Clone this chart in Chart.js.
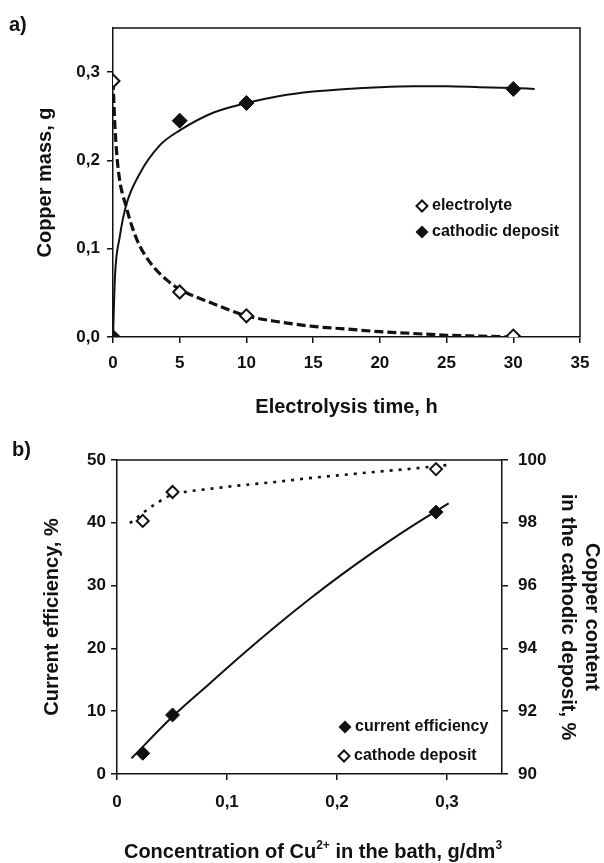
<!DOCTYPE html>
<html>
<head>
<meta charset="utf-8">
<script src="https://cdn.jsdelivr.net/npm/chart.js@4.4.0/dist/chart.umd.min.js"></script>
<style>
  body { margin: 0; background: #fff; width: 604px; height: 863px; position: relative; overflow: hidden; }
  #wrapA { position: absolute; left: 0; top: 0; width: 604px; height: 425px; }
  #wrapB { position: absolute; left: 0; top: 425px; width: 604px; height: 438px; }
</style>
</head>
<body>
<div id="wrapA"><canvas id="chartA" width="604" height="425"></canvas></div>
<div id="wrapB"><canvas id="chartB" width="604" height="438"></canvas></div>
<script>
// ---- a) copper mass vs electrolysis time ----
var time_h = [0, 5, 10, 30];
var electrolyte_g = [0.29, 0.051, 0.024, 0.001];
var deposit_g = [0, 0.245, 0.265, 0.281];
// trend lines
var deposit_fit_t = [0, 0.15, 0.5, 1, 2, 3.5, 5, 7.5, 10, 12.5, 15, 17.5, 20, 22.5, 25, 27.5, 30, 31.6];
var deposit_fit_g = [0, 0.069, 0.113, 0.15, 0.185, 0.217, 0.234, 0.254, 0.265, 0.273, 0.278, 0.281, 0.283, 0.284, 0.284, 0.283, 0.282, 0.281];
var electrolyte_fit_t = [0, 0.15, 0.4, 1, 1.8, 2.8, 4, 5, 7.3, 10, 12.5, 15, 17.5, 20, 22.5, 25, 27.5, 30];
var electrolyte_fit_g = [0.29, 0.237, 0.189, 0.147, 0.11, 0.084, 0.065, 0.054, 0.039, 0.024, 0.017, 0.012, 0.009, 0.006, 0.004, 0.002, 0.001, 0.0];

// ---- b) current efficiency / Cu content vs Cu2+ concentration ----
var conc = [0.0234, 0.0505, 0.29];
var efficiency = [3.3, 9.4, 41.7];
var cu_content = [98.06, 98.98, 99.71];
var eff_fit_c = [0.0132, 0.0508, 0.0838, 0.1138, 0.1438, 0.1739, 0.2039, 0.2339, 0.264, 0.3015];
var eff_fit = [2.5, 9.2, 14.35, 19.0, 23.45, 27.7, 31.7, 35.45, 39.0, 43.1];
var cu_fit_c = [0.0117, 0.023, 0.035, 0.0505, 0.065, 0.084, 0.114, 0.144, 0.174, 0.204, 0.234, 0.264, 0.30];
var cu_fit = [97.99, 98.3, 98.6, 98.9, 99.0, 99.08, 99.2, 99.3, 99.42, 99.52, 99.62, 99.71, 99.84];

var ink = '#111';
var FONT = '"Liberation Sans", Arial, sans-serif';
Chart.defaults.font.family = FONT;
Chart.defaults.color = ink;

function pts(xs, ys) {
    return xs.map(function (x, i) { return {x: x, y: ys[i]}; });
}
function comma(v, d) { return v.toFixed(d).replace('.', ','); }

function diamond(ctx, x, y, r, filled) {
    ctx.beginPath();
    ctx.moveTo(x, y - r); ctx.lineTo(x + r, y); ctx.lineTo(x, y + r); ctx.lineTo(x - r, y);
    ctx.closePath();
    if (filled) {
        ctx.fillStyle = ink; ctx.fill();
    } else {
        ctx.fillStyle = '#fff'; ctx.fill();
        ctx.lineWidth = 2; ctx.strokeStyle = ink; ctx.stroke();
    }
}

function tickAxis(extra) {
    var o = {
        type: 'linear',
        border: {display: true, color: ink, width: 1.5},
        grid: {drawOnChartArea: false, drawTicks: true, tickLength: 6, color: ink, lineWidth: 1.5},
        ticks: {color: ink, font: {size: 17, weight: 'bold'}, includeBounds: false}
    };
    for (var k in extra) o[k] = extra[k];
    return o;
}

// frame lines + panel letter + legend, drawn on the canvas
function decor(opts) {
    return {
        id: 'decor',
        beforeDatasetsDraw: function (chart) {
            var ctx = chart.ctx, a = chart.chartArea;
            ctx.save();
            ctx.strokeStyle = ink; ctx.lineWidth = 1.5;
            ctx.beginPath();
            ctx.moveTo(a.left, a.top); ctx.lineTo(a.right, a.top);
            if (opts.rightEdge) ctx.lineTo(a.right, a.bottom);
            ctx.stroke();
            ctx.restore();
        },
        afterDraw: function (chart) {
            var ctx = chart.ctx;
            ctx.save();
            ctx.fillStyle = ink;
            ctx.font = 'bold 20px ' + FONT;
            ctx.textBaseline = 'middle';
            ctx.textAlign = 'left';
            ctx.fillText(opts.letter, opts.letterPos[0], opts.letterPos[1]);
            opts.legend.forEach(function (it) {
                diamond(ctx, it.x, it.y, it.r, it.filled);
                ctx.fillStyle = ink;
                ctx.font = 'bold 16px ' + FONT;
                ctx.textBaseline = 'middle';
                ctx.fillText(it.text, it.x + 10, it.y);
            });
            if (opts.after) opts.after(chart, ctx);
            ctx.restore();
        }
    };
}

var chartA = new Chart(document.getElementById('chartA'), {
    type: 'line',
    data: {
        datasets: [
            {label: 'electrolyte', data: pts(time_h, electrolyte_g), showLine: false,
             pointStyle: 'rectRot', pointRadius: 6.5, pointBackgroundColor: '#fff',
             pointBorderColor: ink, pointBorderWidth: 2, order: 1},
            {label: 'cathodic deposit', data: pts(time_h, deposit_g), showLine: false,
             pointStyle: 'rectRot', pointRadius: 7.5, pointBackgroundColor: ink,
             pointBorderColor: ink, pointBorderWidth: 1, order: 1},
            {label: 'electrolyte trend', data: pts(electrolyte_fit_t, electrolyte_fit_g),
             borderColor: ink, borderWidth: 3.2, borderDash: [9, 4], pointRadius: 0,
             cubicInterpolationMode: 'monotone', fill: false, order: 2},
            {label: 'deposit trend', data: pts(deposit_fit_t, deposit_fit_g),
             borderColor: ink, borderWidth: 2, pointRadius: 0,
             cubicInterpolationMode: 'monotone', fill: false, order: 2}
        ]
    },
    options: {
        responsive: false,
        animation: false,
        layout: {padding: {top: 28, right: 24, left: 0, bottom: 0}},
        plugins: {legend: {display: false}, tooltip: {enabled: false}},
        scales: {
            x: tickAxis({
                min: 0, max: 35,
                ticks: {color: ink, font: {size: 17, weight: 'bold'}, stepSize: 5, padding: 10},
                title: {display: true, text: 'Electrolysis time, h', color: ink,
                        font: {size: 20, weight: 'bold'}, padding: {top: 0, bottom: 6}},
                afterFit: function (s) { s.height = 88; }
            }),
            y: tickAxis({
                min: 0, max: 0.35,
                ticks: {color: ink, font: {size: 17, weight: 'bold'}, stepSize: 0.1, padding: 7,
                        includeBounds: false, callback: function (v) { return comma(v, 1); }},
                title: {display: true, text: 'Copper mass, g', color: ink,
                        font: {size: 20, weight: 'bold'}, padding: {top: 33, bottom: 0}},
                afterFit: function (s) { s.width = 113; }
            })
        }
    },
    plugins: [decor({
        letter: 'a)', letterPos: [9, 25], rightEdge: true,
        legend: [
            {text: 'electrolyte', x: 422, y: 206, r: 5.5, filled: false},
            {text: 'cathodic deposit', x: 422, y: 232, r: 6.5, filled: true}
        ]
    })]
});

function drawTitleB(chart, ctx) {
    var parts = [['Concentration of Cu', 0], ['2+', 1], [' in the bath, g/dm', 0], ['3', 1]];
    var big = 'bold 20px ' + FONT, small = 'bold 12px ' + FONT;
    var w = 0;
    parts.forEach(function (p) { ctx.font = p[1] ? small : big; w += ctx.measureText(p[0]).width; });
    var x = 313 - w / 2, y = 433;
    ctx.fillStyle = ink;
    ctx.textBaseline = 'alphabetic';
    ctx.textAlign = 'left';
    parts.forEach(function (p) {
        ctx.font = p[1] ? small : big;
        ctx.fillText(p[0], x, p[1] ? y - 9 : y);
        x += ctx.measureText(p[0]).width;
    });
}

var chartB = new Chart(document.getElementById('chartB'), {
    type: 'line',
    data: {
        datasets: [
            {label: 'current efficiency', data: pts(conc, efficiency), showLine: false, yAxisID: 'y',
             pointStyle: 'rectRot', pointRadius: 7, pointBackgroundColor: ink,
             pointBorderColor: ink, pointBorderWidth: 1, order: 1},
            {label: 'cathode deposit', data: pts(conc, cu_content), showLine: false, yAxisID: 'y2',
             pointStyle: 'rectRot', pointRadius: 6, pointBackgroundColor: '#fff',
             pointBorderColor: ink, pointBorderWidth: 2, order: 1},
            {label: 'efficiency trend', data: pts(eff_fit_c, eff_fit), yAxisID: 'y',
             borderColor: ink, borderWidth: 2, pointRadius: 0,
             cubicInterpolationMode: 'monotone', fill: false, order: 2},
            {label: 'deposit trend', data: pts(cu_fit_c, cu_fit), yAxisID: 'y2',
             borderColor: ink, borderWidth: 2.6, borderDash: [3, 6], pointRadius: 0,
             cubicInterpolationMode: 'monotone', fill: false, order: 2}
        ]
    },
    options: {
        responsive: false,
        animation: false,
        layout: {padding: {top: 35, right: 0, left: 0, bottom: 0}},
        plugins: {legend: {display: false}, tooltip: {enabled: false}},
        scales: {
            x: tickAxis({
                min: 0, max: 0.35,
                ticks: {color: ink, font: {size: 17, weight: 'bold'}, stepSize: 0.1, padding: 12,
                        includeBounds: false,
                        callback: function (v) { return v === 0 ? '0' : comma(v, 1); }},
                afterFit: function (s) { s.height = 89; }
            }),
            y: tickAxis({
                position: 'left',
                min: 0, max: 50,
                ticks: {color: ink, font: {size: 17, weight: 'bold'}, stepSize: 10, padding: 5},
                title: {display: true, text: 'Current efficiency, %', color: ink,
                        font: {size: 20, weight: 'bold'}, padding: {top: 40, bottom: 0}},
                afterFit: function (s) { s.width = 117; }
            }),
            y2: tickAxis({
                position: 'right',
                min: 90, max: 100,
                ticks: {color: ink, font: {size: 17, weight: 'bold'}, stepSize: 2, padding: 10},
                title: {display: true, text: ['Copper content', 'in the cathodic deposit, %'], color: ink,
                        font: {size: 20, weight: 'bold'}, padding: {top: 0, bottom: 0}},
                afterFit: function (s) { s.width = 102; }
            })
        }
    },
    plugins: [decor({
        letter: 'b)', letterPos: [12, 25], rightEdge: false,
        legend: [
            {text: 'current efficiency', x: 345, y: 302, r: 6.5, filled: true},
            {text: 'cathode deposit', x: 344, y: 331, r: 5.5, filled: false}
        ],
        after: drawTitleB
    })]
});
</script>
</body>
</html>
